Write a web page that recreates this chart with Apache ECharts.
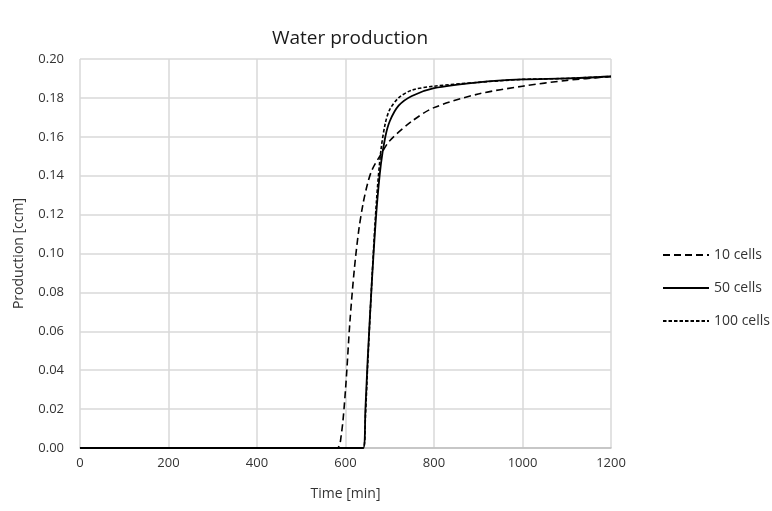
<!DOCTYPE html>
<html><head><meta charset="utf-8">
<script src="https://cdn.jsdelivr.net/npm/echarts@6/dist/echarts.min.js"></script>
<style>html,body{margin:0;padding:0;background:#fff}#c{width:772px;height:511px}</style>
</head><body><div id="c"></div>
<script>
const seriesNames = ['10 cells', '50 cells', '100 cells'];
const xTicks = [0, 200, 400, 600, 800, 1000, 1200];
const yTicks = [0, 0.02, 0.04, 0.06, 0.08, 0.10, 0.12, 0.14, 0.16, 0.18, 0.20];

const time10 = [0, 580, 590, 600, 610, 620, 630, 640, 650, 660, 680, 700, 750, 800, 900, 1000, 1100, 1200];
const prod10 = [0, 0, 0.006, 0.03, 0.065, 0.092, 0.112, 0.126, 0.136, 0.143, 0.151, 0.158, 0.168, 0.175, 0.182, 0.186, 0.189, 0.191];

const time50 = [0, 640, 645, 650, 660, 670, 680, 690, 700, 720, 750, 800, 900, 1000, 1100, 1200];
const prod50 = [0, 0, 0.02, 0.045, 0.087, 0.122, 0.146, 0.160, 0.168, 0.176, 0.181, 0.185, 0.188, 0.1895, 0.190, 0.191];

const time100 = [0, 640, 645, 650, 660, 670, 680, 690, 700, 720, 750, 800, 900, 1000, 1100, 1200];
const prod100 = [0, 0, 0.016, 0.042, 0.088, 0.127, 0.153, 0.167, 0.174, 0.180, 0.184, 0.186, 0.188, 0.1895, 0.190, 0.191];

const zip = (a, b) => a.map((v, i) => [v, b[i]]);
const font = 'Open Sans';
const chart = echarts.init(document.getElementById('c'), null, {renderer: 'canvas'});
chart.setOption({
  animation: false,
  backgroundColor: '#fff',
  title: {text: 'Water production', left: 345, top: 24, textAlign: 'center',
    textStyle: {fontFamily: font, fontSize: 19, fontWeight: 'normal', color: '#1a1a1a'}},
  grid: {left: 80, right: 161, top: 59, bottom: 63, outerBoundsMode: 'none', containLabel: false},
  legend: {orient: 'vertical', left: 657, top: 243, itemWidth: 46, itemHeight: 12, itemGap: 19,
    itemStyle: {opacity: 0},
    textStyle: {fontFamily: font, fontSize: 14, color: '#333'},
    data: seriesNames},
  xAxis: {type: 'value', min: xTicks[0], max: xTicks[xTicks.length - 1], interval: 200,
    name: 'Time [min]', nameLocation: 'middle', nameGap: 39,
    nameTextStyle: {fontFamily: font, fontSize: 14, color: '#333'},
    axisLine: {lineStyle: {color: '#bfbfbf', width: 1.5}},
    axisTick: {show: false},
    axisLabel: {fontFamily: font, fontSize: 13, color: '#333', margin: 9,
      formatter: v => String(v)},
    splitLine: {lineStyle: {color: '#d9d9d9', width: 1.5}}},
  yAxis: {type: 'value', min: yTicks[0], max: yTicks[yTicks.length - 1], interval: 0.02,
    name: 'Production [ccm]', nameLocation: 'middle', nameGap: 54,
    nameTextStyle: {fontFamily: font, fontSize: 14, color: '#333'},
    axisLine: {show: false}, axisTick: {show: false},
    axisLabel: {fontFamily: font, fontSize: 13, color: '#333', margin: 16,
      formatter: v => v.toFixed(2)},
    splitLine: {lineStyle: {color: '#d9d9d9', width: 1.5}}},
  series: [
    {name: seriesNames[0], type: 'line', smooth: 0.3, symbol: 'none', data: zip(time10, prod10),
      lineStyle: {color: '#000', width: 1.6, type: [7, 4]}, itemStyle: {color: '#000'}},
    {name: seriesNames[1], type: 'line', smooth: 0.3, symbol: 'none', data: zip(time50, prod50),
      lineStyle: {color: '#000', width: 1.8, type: 'solid'}, itemStyle: {color: '#000'}},
    {name: seriesNames[2], type: 'line', smooth: 0.3, symbol: 'none', data: zip(time100, prod100),
      lineStyle: {color: '#000', width: 1.6, type: [3.5, 2]}, itemStyle: {color: '#000'}}
  ]
});
</script></body></html>
